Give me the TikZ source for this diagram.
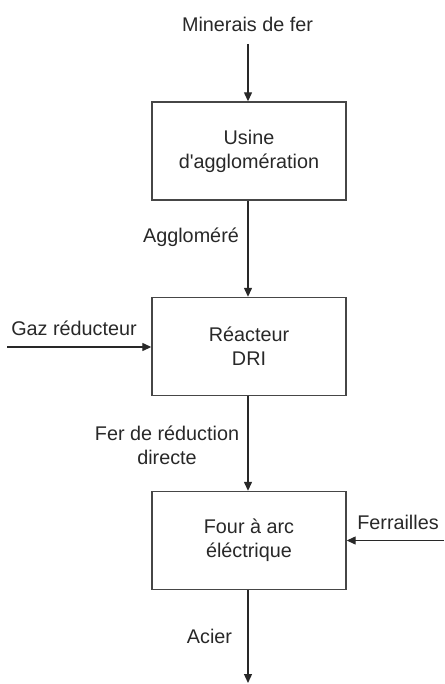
\documentclass[tikz,border=0pt]{standalone}
\usepackage{fontspec}
\setmainfont{Liberation Sans}[Ligatures=TeXOff]
\usetikzlibrary{arrows.meta}
\definecolor{ink}{RGB}{40,40,40}
\definecolor{boxline}{RGB}{70,70,70}
\begin{document}
\begin{tikzpicture}[x=1pt,y=-1pt,
  every node/.style={font=\fontsize{19.8}{24}\selectfont, text=ink},
  procbox/.style={draw=boxline, line width=1.4pt, rectangle, minimum width=194pt, minimum height=98pt, align=center, inner sep=0pt},
  flow/.style={draw=ink, line width=1.3pt, -{Triangle[length=9pt,width=8pt]}},
  lbl/.style={inner sep=0pt, align=center}]
\useasboundingbox (0,0) rectangle (444,684);
\node[procbox] (b1) at (249,151) {Usine\\d'agglomération};
\node[procbox] (b2) at (249,346.5) {Réacteur\\DRI};
\node[procbox] (b3) at (249,540.5) {Four à arc\\éléctrique};
\node[lbl] (min) at (247.5,24) {Minerais de fer};
\node[lbl] (agg) at (191,237) {Aggloméré};
\node[lbl] (gaz) at (74,328) {Gaz réducteur};
\node[lbl] (fer) at (167,445) {Fer de réduction\\directe};
\node[lbl] (fera) at (398,522) {Ferrailles};
\node[lbl] (aci) at (209.5,636) {Acier};
\coordinate (minend) at (248,44);
\coordinate (gazend) at (7,347);
\coordinate (ferend) at (444,540.5);
\coordinate (out) at (248,683);
\draw[flow] (minend) -- (b1.north -| minend);
\draw[flow] (b1.south -| minend) -- (b2.north -| minend);
\draw[flow] (gazend) -- (b2.west |- gazend);
\draw[flow] (b2.south -| minend) -- (b3.north -| minend);
\draw[flow] (ferend) -- (b3.east |- ferend);
\draw[flow] (b3.south -| out) -- (out);
\end{tikzpicture}
\end{document}
